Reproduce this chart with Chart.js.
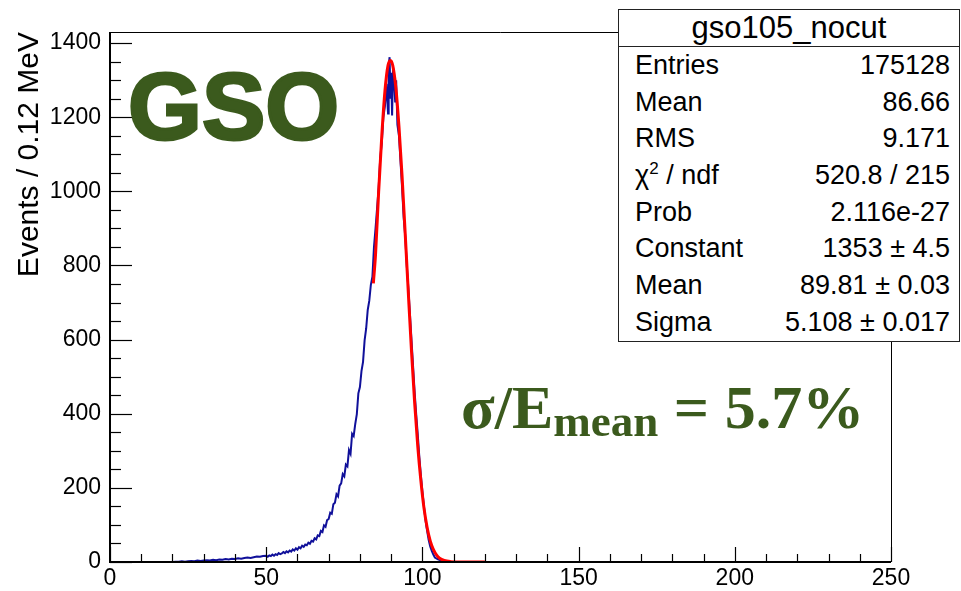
<!DOCTYPE html>
<html>
<head>
<meta charset="utf-8">
<script src="https://cdn.jsdelivr.net/npm/chart.js@4.4.0/dist/chart.umd.min.js"></script>
<style>
  body { margin: 0; background: #fff; }
  #wrap { position: relative; width: 961px; height: 591px; overflow: hidden; }
  canvas { position: absolute; left: 0; top: 0; }
  .green { color: #3b5a1d; position: absolute; white-space: nowrap; }
  #gso { left: 128px; top: 59px; font: bold 95px "Liberation Sans", Arial, sans-serif; line-height: 95px; -webkit-text-stroke: 3px #3b5a1d; }
  #reso { left: 461px; top: 376px; font: bold 62px "Liberation Serif", "Times New Roman", serif; line-height: 62px; }
  #reso sub { font-size: 45px; vertical-align: -8px; }
  #stats { position: absolute; left: 618px; top: 9px; width: 342px; height: 333px; background: #fff;
           border: 1.5px solid #222; box-sizing: border-box; font-family: "Liberation Sans", Arial, sans-serif; color: #000; }
  #stats .title { height: 36px; border-bottom: 1.5px solid #222; text-align: center; font-size: 31px; line-height: 36px; }
  #stats .row { display: flex; justify-content: space-between; height: 36.7px; line-height: 36.7px; font-size: 27px; padding: 0 9px 0 16px; }
  #stats sup { font-size: 17px; vertical-align: 10px; line-height: 0; }
</style>
</head>
<body>
<div id="wrap">
  <canvas id="chart" width="961" height="591"></canvas>
  <div id="gso" class="green">GSO</div>
  <div id="reso" class="green">σ/E<sub>mean</sub> = 5.7%</div>
  <div id="stats"></div>
</div>
<script>
// histogram of deposited energy (MeV)
const histE = [0, 18, 20, 21, 22, 23, 24, 25, 26, 27, 28, 29, 30, 31, 32, 33, 34, 35, 36, 37, 38, 39, 40, 41, 42, 43, 44,
  45, 46, 47, 48, 49, 50, 50.5, 51, 51.5, 52, 52.5, 53, 53.5, 54, 54.5, 55, 55.5, 56, 56.5, 57, 57.5, 58, 58.5, 59,
  59.5, 60, 60.5, 61, 61.5, 62, 62.5, 63, 63.5, 64, 64.5, 65, 65.5, 66, 66.5, 67, 67.5, 68, 68.5, 69, 69.5, 70, 70.5,
  71, 71.5, 72, 72.5, 73, 73.5, 74, 74.5, 75, 75.5, 76, 76.5, 77, 77.5, 78, 78.5, 79, 79.5, 80, 80.5, 81, 81.5,
  82, 82.5, 83, 83.5, 84, 84.5, 85, 85.5, 86, 86.5, 87, 87.5, 88, 88.5, 89, 89.2, 89.5, 89.8, 90, 90.3, 90.6, 91,
  91.3, 91.6, 92, 92.5, 93, 93.5, 94, 94.5, 95, 95.5, 96, 96.5, 97, 97.5, 98, 98.5, 99, 99.5, 100, 100.5, 101,
  101.5, 102, 102.5, 103, 103.5, 104, 105, 106, 107, 108, 110, 250];
const histCounts = [0, 0, 0, 1, 1, 2, 1, 2, 3, 2, 4, 3, 4, 5, 4, 6, 5, 7, 6, 8, 7, 9, 8, 10, 9, 11, 12,
  11, 13, 15, 14, 16, 17, 14, 18, 16, 20, 17, 21, 19, 24, 21, 23, 27, 24, 29, 26, 31, 28, 34, 31,
  37, 33, 40, 37, 44, 41, 47, 45, 52, 49, 57, 55, 64, 61, 72, 70, 84, 81, 99, 95, 113, 116, 133,
  130, 156, 160, 183, 177, 206, 212, 237, 231, 263, 258, 302, 292, 346, 340, 372, 398, 455, 472, 515, 540, 598,
  630, 680, 705, 748, 770, 850, 900, 955, 1010, 1090, 1130, 1200, 1230, 1290, 1210, 1340, 1362, 1250, 1320, 1205, 1335, 1290,
  1240, 1300, 1180, 1150, 1080, 1010, 930, 880, 800, 740, 670, 600, 530, 460, 400, 345, 285, 235, 190, 150, 112,
  85, 60, 42, 30, 20, 12, 7, 4, 2, 1, 0, 0];

// gaussian fit line
const fitE = [84.3, 85, 86, 87, 88, 89, 89.8, 90.5, 91.5, 92.5, 93.5, 94.5, 95.5, 96.5, 97.5, 98.5, 99.5, 100.5,
  101.5, 102.5, 103.5, 104.5, 105.5, 107, 109, 112, 120];
const fitCounts = [752, 830, 1000, 1150, 1270, 1340, 1353, 1340, 1280, 1175, 1040, 885, 725, 570, 432, 314, 220, 146,
  94, 57, 34, 19, 10, 4, 1, 0, 0];

const xTicks = [0, 50, 100, 150, 200, 250];
const yTicks = [0, 200, 400, 600, 800, 1000, 1200, 1400];

const statNames = ['Entries', 'Mean', 'RMS', 'χ<sup>2</sup> / ndf', 'Prob', 'Constant', 'Mean', 'Sigma'];
const statValues = ['175128', '86.66', '9.171', '520.8 / 215', '2.116e-27', '1353 ± 4.5', '89.81 ± 0.03', '5.108 ± 0.017'];

// stats box
let box = document.getElementById('stats');
let html = '<div class="title">gso105_nocut</div>';
for (let i = 0; i < statNames.length; i++) {
  html += '<div class="row"><span>' + statNames[i] + '</span><span>' + statValues[i] + '</span></div>';
}
box.innerHTML = html;

Chart.defaults.font.family = '"Liberation Sans", Arial, sans-serif';
Chart.defaults.color = '#000';

// ROOT style: ticks inside the frame, box around the pad
const frameTicks = {
  id: 'frameTicks',
  afterDraw(chart) {
    const ctx = chart.ctx, a = chart.chartArea;
    const xs = chart.scales.x, ys = chart.scales.y;
    ctx.save();
    ctx.strokeStyle = '#000';
    ctx.lineWidth = 1.2;
    for (let v = 0; v <= 250; v += 10) {
      let px = Math.round(xs.getPixelForValue(v)) + 0.5;
      let len = v % 50 === 0 ? 15 : 8;
      ctx.beginPath(); ctx.moveTo(px, a.bottom); ctx.lineTo(px, a.bottom - len); ctx.stroke();
    }
    for (let v = 0; v <= 1400; v += 50) {
      let py = Math.round(ys.getPixelForValue(v)) + 0.5;
      let len = v % 200 === 0 ? 22 : 11;
      ctx.beginPath(); ctx.moveTo(a.left, py); ctx.lineTo(a.left + len, py); ctx.stroke();
    }
    ctx.lineWidth = 1;
    ctx.beginPath();
    ctx.moveTo(a.left, a.top + 0.5); ctx.lineTo(a.right + 0.5, a.top + 0.5); ctx.lineTo(a.right + 0.5, a.bottom);
    ctx.stroke();
    ctx.lineWidth = 2;
    ctx.beginPath();
    ctx.moveTo(a.left, a.top); ctx.lineTo(a.left, a.bottom); ctx.lineTo(a.right, a.bottom);
    ctx.stroke();
    ctx.restore();
  }
};

let ctx = document.getElementById('chart').getContext('2d');
new Chart(ctx, {
  type: 'line',
  data: {
    datasets: [{
      label: 'fit',
      data: fitE.map((e, i) => ({x: e, y: fitCounts[i]})),
      borderColor: '#ff0000',
      borderWidth: 3,
      pointRadius: 0,
      cubicInterpolationMode: 'monotone',
      order: 0
    }, {
      label: 'gso105_nocut',
      data: histE.map((e, i) => ({x: e, y: histCounts[i]})),
      borderColor: '#10109a',
      borderWidth: 2,
      pointRadius: 0,
      tension: 0,
      order: 1
    }]
  },
  options: {
    responsive: false,
    animation: false,
    events: [],
    layout: { padding: { left: 0, top: 32, right: 70, bottom: 0 } },
    plugins: { legend: { display: false }, tooltip: { enabled: false } },
    scales: {
      x: {
        type: 'linear', min: 0, max: 250,
        grid: { display: false, drawTicks: false },
        border: { display: false },
        afterBuildTicks: s => { s.ticks = xTicks.map(v => ({value: v})); },
        afterFit: s => { s.height = 29; },
        ticks: { font: { size: 23 }, padding: 3, maxRotation: 0, autoSkip: false, callback: v => String(v) }
      },
      y: {
        type: 'linear', min: 0, max: 1430,
        grid: { display: false, drawTicks: false },
        border: { display: false },
        afterBuildTicks: s => { s.ticks = yTicks.map(v => ({value: v})); },
        afterFit: s => { s.width = 110; },
        ticks: { font: { size: 23 }, padding: 9, callback: v => String(v) },
        title: { display: true, text: 'Events / 0.12 MeV', align: 'end', font: { size: 30 }, padding: { top: 12, bottom: 0 } }
      }
    }
  },
  plugins: [frameTicks]
});
</script>
</body>
</html>
